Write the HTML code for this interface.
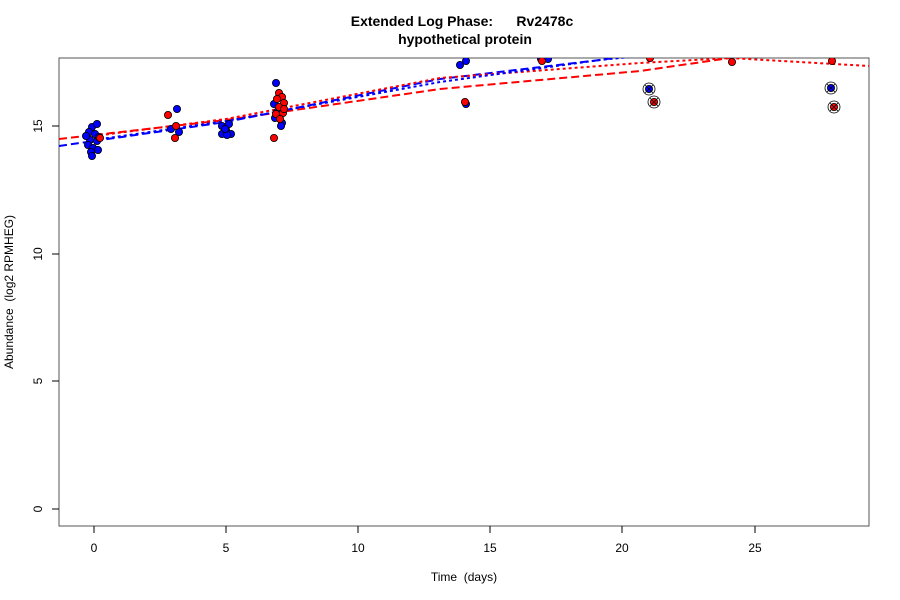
<!DOCTYPE html>
<html><head><meta charset="utf-8"><style>
body{margin:0;background:#fff;}
svg{display:block;font-family:"Liberation Sans",sans-serif;}
text{white-space:pre;}
</style></head><body>
<svg width="900" height="600" viewBox="0 0 900 600" xml:space="preserve">
<defs><clipPath id="c"><rect x="59" y="58" width="810" height="468"/></clipPath></defs>
<text x="462" y="26" font-size="14" font-weight="bold" text-anchor="middle">Extended Log Phase:      Rv2478c</text>
<text x="465" y="44" font-size="14" font-weight="bold" text-anchor="middle">hypothetical protein</text>
<rect x="59" y="58" width="810" height="468" fill="none" stroke="#555" stroke-width="1"/>
<g stroke="#000" stroke-width="1">
<line x1="94" y1="526" x2="94" y2="533"/><line x1="226" y1="526" x2="226" y2="533"/><line x1="358" y1="526" x2="358" y2="533"/><line x1="490" y1="526" x2="490" y2="533"/><line x1="622" y1="526" x2="622" y2="533"/><line x1="755" y1="526" x2="755" y2="533"/>
<line x1="52" y1="509" x2="59" y2="509"/><line x1="52" y1="381" x2="59" y2="381"/><line x1="52" y1="254" x2="59" y2="254"/><line x1="52" y1="126" x2="59" y2="126"/>
</g>
<g font-size="12" text-anchor="middle">
<text x="94" y="552">0</text><text x="226" y="552">5</text><text x="358" y="552">10</text><text x="490" y="552">15</text><text x="622" y="552">20</text><text x="755" y="552">25</text>
<text transform="translate(42,509) rotate(-90)">0</text><text transform="translate(42,381) rotate(-90)">5</text><text transform="translate(42,254) rotate(-90)">10</text><text transform="translate(42,126) rotate(-90)">15</text>
<text x="464" y="581">Time  (days)</text>
<text transform="translate(13,292) rotate(-90)">Abundance  (log2 RPMHEG)</text>
</g>
<g clip-path="url(#c)">
<g fill="none" stroke-width="2">
<polyline stroke="#f00" stroke-dasharray="8,4" points="59,139 226,120 440,89 640,71 730,58 869,50"/>
<polyline stroke="#00f" stroke-dasharray="8,4" points="59,146 226,122 440,79 600,60 700,45"/>
<polyline stroke="#f00" stroke-dasharray="3,3" points="94,136 226,119 440,78 640,63 730,58 869,66"/>
<polyline stroke="#00f" stroke-dasharray="3,3" points="94,140 226,121 440,82 600,60 700,50"/>
</g>
<g stroke="#000" stroke-width="0.8">
<g fill="#00f">
<circle cx="92" cy="127" r="3.6"/><circle cx="97" cy="124" r="3.6"/><circle cx="89" cy="132" r="3.6"/><circle cx="95" cy="134" r="3.6"/><circle cx="90" cy="140" r="3.6"/><circle cx="97" cy="141" r="3.6"/><circle cx="88" cy="145" r="3.6"/><circle cx="93" cy="148" r="3.6"/><circle cx="91" cy="152" r="3.6"/><circle cx="92" cy="156" r="3.6"/><circle cx="98" cy="150" r="3.6"/><circle cx="86" cy="136" r="3.6"/><circle cx="99" cy="137" r="3.6"/>
<circle cx="177" cy="109" r="3.6"/><circle cx="179" cy="132" r="3.6"/><circle cx="171" cy="129" r="3.6"/>
<circle cx="222" cy="126" r="3.6"/><circle cx="229" cy="124" r="3.6"/><circle cx="226" cy="130" r="3.6"/><circle cx="222" cy="134" r="3.6"/><circle cx="231" cy="134" r="3.6"/><circle cx="227" cy="135" r="3.6"/><circle cx="225" cy="129" r="3.6"/>
<circle cx="276" cy="83" r="3.6"/><circle cx="274" cy="104" r="3.6"/><circle cx="281" cy="110" r="3.6"/><circle cx="275" cy="118" r="3.6"/><circle cx="282" cy="123" r="3.6"/><circle cx="281" cy="126" r="3.6"/><circle cx="277" cy="112" r="3.6"/>
<circle cx="460" cy="65" r="3.6"/><circle cx="466" cy="61" r="3.6"/><circle cx="466" cy="104" r="3.6"/>
<circle cx="541" cy="59" r="3.6"/><circle cx="548" cy="59" r="3.6"/>
</g>
<g fill="#f00">
<circle cx="168" cy="115" r="3.6"/><circle cx="175" cy="138" r="3.6"/><circle cx="176" cy="126" r="3.6"/><circle cx="100" cy="138" r="3.6"/>
<circle cx="274" cy="138" r="3.6"/><circle cx="279" cy="93" r="3.6"/><circle cx="282" cy="97" r="3.6"/><circle cx="277" cy="99" r="3.6"/><circle cx="284" cy="103" r="3.6"/><circle cx="279" cy="107" r="3.6"/><circle cx="283" cy="113" r="3.6"/><circle cx="276" cy="114" r="3.6"/><circle cx="280" cy="119" r="3.6"/><circle cx="284" cy="109" r="3.6"/>
<circle cx="465" cy="102" r="3.6"/><circle cx="542" cy="61" r="3.6"/><circle cx="732" cy="62" r="3.6"/><circle cx="832" cy="61" r="3.6"/><circle cx="650" cy="58" r="3.6"/>
</g>
<circle cx="649" cy="89" r="3.6" fill="#00f"/><circle cx="654" cy="102" r="3.6" fill="#f00"/>
<circle cx="831" cy="88" r="3.6" fill="#00f"/><circle cx="834" cy="107" r="3.6" fill="#f00"/>
</g>
<g fill="none" stroke="#000" stroke-width="0.8">
<circle cx="649" cy="89" r="6"/><circle cx="654" cy="102" r="6"/><circle cx="831" cy="88" r="6"/><circle cx="834" cy="107" r="6"/>
<path d="M645 85l8 8M653 85l-8 8M650 98l8 8M658 98l-8 8M827 84l8 8M835 84l-8 8M830 103l8 8M838 103l-8 8"/>
</g>
</g>
</svg>
</body></html>
